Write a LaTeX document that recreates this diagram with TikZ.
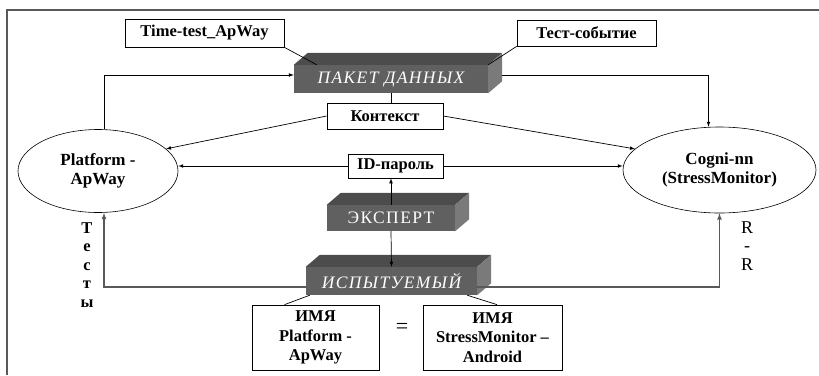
\documentclass[tikz,border=0pt]{standalone}
\usepackage{fontspec}
\setmainfont{Liberation Serif}
\usetikzlibrary{shapes.geometric}
\definecolor{caraFrente}{RGB}{96,96,96}
\definecolor{caraTop}{RGB}{76,76,76}
\definecolor{caraLado}{RGB}{122,122,122}

\begin{document}
\begin{tikzpicture}[x=1pt,y=-1pt,>=latex,
  caja/.style={draw,fill=white,inner sep=0pt,align=center,line width=0.7pt,
    font=\bfseries\fontsize{16.5}{19.5}\selectfont},
  bloque/.style={fill=caraFrente,text=white,inner sep=0pt,
    font=\fontsize{17.5}{19}\selectfont\addfontfeatures{LetterSpace=8}},
  bloquei/.style={bloque,
    font=\fontsize{17.5}{19}\selectfont\itshape\addfontfeatures{LetterSpace=8}},
  elipse/.style={draw,ellipse,inner sep=0pt,align=center,line width=0.6pt,
    font=\bfseries\fontsize{17}{19}\selectfont},
  flecha/.style={->,line width=0.7pt},
  gruesa/.style={->,line width=1.2pt,draw=black!65}]
\def\dx{14};%profundidad horizontal de los bloques
\def\dy{12};%profundidad vertical de los bloques
%caras superior y lateral del bloque
\def\caras#1{
  \fill[caraTop] (#1.north west) -- ++(\dx,-\dy) -- ([shift={(\dx,-\dy)}]#1.north east) -- (#1.north east) -- cycle;
  \fill[caraLado] (#1.north east) -- ([shift={(\dx,-\dy)}]#1.north east) -- ([shift={(\dx,-\dy)}]#1.south east) -- (#1.south east) -- cycle;
}

\useasboundingbox (0,0) rectangle (819,375);
%Marco
\draw[line width=1.5pt,black!65] (7,375) -- (7,10) -- (819,10);

%Bloques
\node[bloquei,minimum width=194,minimum height=28] (paquete) at (391,79) {ПАКЕТ ДАННЫХ};
\node[bloque,minimum width=128,minimum height=26] (experto) at (391,218) {ЭКСПЕРТ};
\node[bloquei,minimum width=171,minimum height=28] (sujeto) at (391.5,281) {ИСПЫТУЕМЫЙ};
\caras{paquete}
\caras{experto}
\caras{sujeto}

%Cajas
\node[caja,minimum width=159,minimum height=28] (tiempo) at (204.5,33) {Time-test\_ApWay};
\node[caja,minimum width=139,minimum height=26] (evento) at (586.5,33) {Тест-событие};
\node[caja,minimum width=116,minimum height=26] (contexto) at (385,116) {Контекст};
\node[caja,minimum width=95,minimum height=24] (clave) at (395.5,166) {ID-пароль};
\node[caja,minimum width=127,minimum height=65] (nombreA) at (315.5,337.5) {ИМЯ\\Platform -\\ApWay};
\node[caja,minimum width=139,minimum height=65] (nombreB) at (492.5,337.5) {ИМЯ\\StressMonitor –\\Android};
\node[font=\fontsize{22}{24}\selectfont] (igual) at (402,328) {=};

%Elipses
\node[elipse,minimum width=160,minimum height=83] (plataforma) at (98,171) {Platform -\\ApWay};
\node[elipse,minimum width=193,minimum height=86] (cogni) at (719.5,170) {Cogni-nn\\(StressMonitor)};

%Textos verticales
\node[align=center,font=\bfseries\fontsize{16.5}{18.5}\selectfont] (tests) at (87,265) {Т\\е\\с\\т\\ы};
\node[align=center,font=\fontsize{18}{18.5}\selectfont] (rr) at (747,246) {R\\-\\R};

%Conexiones
\draw[line width=0.7pt] (tiempo.south east) -- ([xshift=23pt]paquete.north west);
\draw[line width=0.7pt] (evento.south west) -- (paquete.north east);
\draw[line width=0.7pt] (paquete.south) -- (paquete.south |- contexto.north);
\draw[flecha] ([xshift=6pt]plataforma.north) |- ([yshift=4pt]paquete.west);
\draw[flecha] ([xshift=\dx pt,yshift=4pt]paquete.east) -| ([xshift=-11pt]cogni.north);
\draw[flecha] (contexto.west) -- (plataforma.18);
\draw[flecha] (contexto.east) -- (cogni.166);
\draw[flecha] (clave.west) -- (plataforma.east |- clave.west);
\draw[flecha] (clave.east) -- (cogni.west |- clave.east);
\draw[flecha] (experto.north) -- (experto.north |- clave.south);
\draw[flecha] (experto.south) -- (sujeto.north);
\draw[gruesa] ([yshift=-6pt]sujeto.west) -| ([xshift=6pt]plataforma.south);
\draw[gruesa] ([yshift=-6pt]sujeto.east) -| (cogni.south);
\draw[line width=0.7pt] ([xshift=-31pt]nombreA.north) -- ([xshift=4pt]sujeto.south west);
\draw[line width=0.7pt] ([xshift=4.5pt]nombreB.north) -- ([xshift=-10pt]sujeto.south east);
\end{tikzpicture}
\end{document}
